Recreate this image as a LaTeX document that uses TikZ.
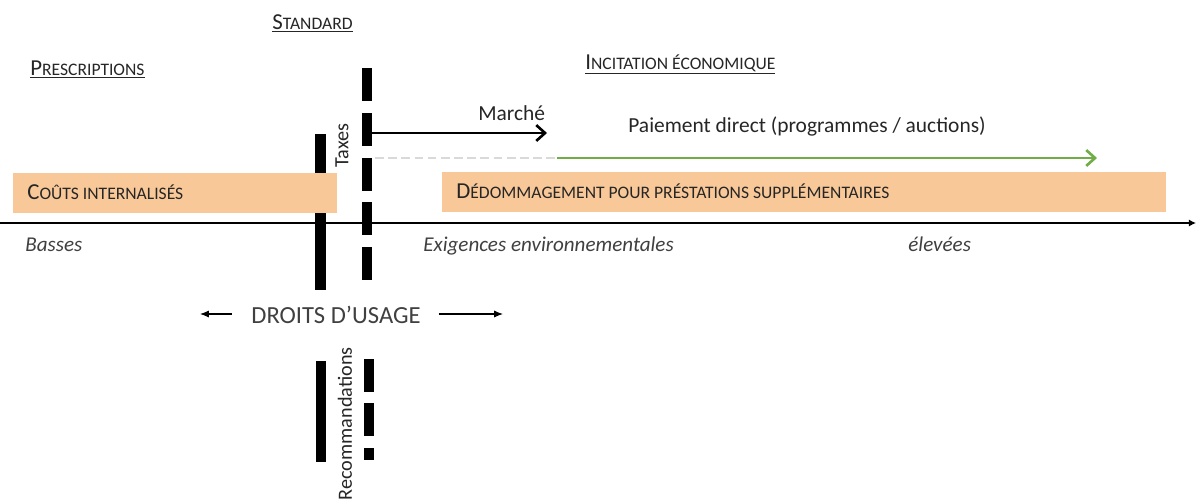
\documentclass[tikz,border=0pt]{standalone}
\usepackage{fontspec}
\setmainfont{Carlito}
\usepackage{tikz}
\usetikzlibrary{arrows.meta,positioning}

\definecolor{boxorange}{RGB}{249,200,152}
\definecolor{paygreen}{RGB}{112,173,71}
\definecolor{textdark}{RGB}{38,38,38}
\definecolor{textgray}{RGB}{64,64,64}
\newcommand\FakeSC[2]{{\fontsize{13}{15}\selectfont #1}{\fontsize{10}{12}\selectfont #2}}

\begin{document}
\begin{tikzpicture}[y=-0.02cm,x=0.02cm,
	every node/.style={inner sep=0pt,text=textdark},
	heading/.style={anchor=base west,font=\fontsize{11}{13}\selectfont},
	boxlabel/.style={anchor=base west},
	axislabel/.style={anchor=base west,text=textgray,font=\fontsize{12}{14}\selectfont\itshape},
	flowlabel/.style={anchor=base west,font=\fontsize{12.2}{14}\selectfont},
	sidelabel/.style={rotate=90,anchor=east,font=\fontsize{11.5}{13}\selectfont},
	costbox/.style={fill=boxorange},
	smallarrow/.style={-{Latex[length=5pt,width=4pt]},line width=0.6pt},
	flowarrow/.style={line width=1.5pt,-{Straight Barb[length=5pt,width=9pt,line width=1.5pt]}}]
	\newcommand\Dash{+(0,0) rectangle +(10,33)}
	\newcommand\ShortDash{+(0,0) rectangle +(10,12)}
	\useasboundingbox (0,0) rectangle (1197,498);

	% titles
	\node[heading] (standard) at (272,29) {\underline{\FakeSC{S}{TANDARD}}};
	\node[heading] (prescr) at (30,75) {\underline{\FakeSC{P}{RESCRIPTIONS}}};
	\node[heading] (incit) at (585,69) {\underline{\FakeSC{I}{NCITATION \'ECONOMIQUE}}};

	% upper bars
	\fill (315,134) rectangle (326,290);
	\fill (362,68) \Dash;
	\fill (362,113) \Dash;
	\fill (362,158) \Dash;
	\fill (362,202) \Dash;
	\fill (362,247) \Dash;

	% boxes
	\fill[costbox] (13,173) rectangle (337,213);
	\fill[costbox] (442,172) rectangle (1166,212);
	\node[boxlabel] (couts) at (27,199) {\FakeSC{C}{O\^UTS INTERNALIS\'ES}};
	\node[boxlabel] (dedom) at (456,198) {\FakeSC{D}{\'EDOMMAGEMENT POUR PR\'ESTATIONS SUPPL\'EMENTAIRES}};

	% axis
	\coordinate (axstart) at (0,223);
	\coordinate (axend) at (1196,223);
	\draw[line width=0.7pt,-{Latex[length=4pt,width=4pt]}] (axstart) -- (axend);
	\node[axislabel] (basses) at (25,251) {Basses};
	\node[axislabel] (exig) at (423,251) {Exigences environnementales};
	\node[axislabel] (elev) at (908,251) {élevées};

	% flows
	\node[sidelabel] (taxes) at (342,123) {Taxes};
	\node[flowlabel] (marche) at (478,120) {Marché};
	\node[flowlabel] (paie) at (628,132) {Paiement direct (programmes / auctions)};
	\coordinate (mstart) at (372,133);
	\coordinate (mend) at (547,133);
	\draw[flowarrow] (mstart) -- (mend);
	\coordinate (gstart) at (375,158);
	\coordinate (gmid) at (557,158);
	\coordinate (gend) at (1097,158);
	\draw[line width=1.5pt,color=black!15,dash pattern=on 5pt off 2.5pt] (gstart) -- (gmid);
	\draw[flowarrow,paygreen] (gmid) -- (gend);

	% rights of use
	\node[anchor=base,text=textgray,font=\fontsize{14}{16}\selectfont] (droits) at (336,323) {DROITS D’USAGE};
	\coordinate (dleft) at (200,314);
	\coordinate (dright) at (503,314);
	\draw[smallarrow] ([xshift=-11pt]droits.west |- dleft) -- (dleft);
	\draw[smallarrow] ([xshift=10pt]droits.east |- dright) -- (dright);

	% lower bars
	\fill (316,361) rectangle (326,462);
	\fill (364,359) \Dash;
	\fill (364,403) \Dash;
	\fill (364,448) \ShortDash;
	\node[sidelabel] (recom) at (345,347) {Recommandations};
\end{tikzpicture}
\end{document}
